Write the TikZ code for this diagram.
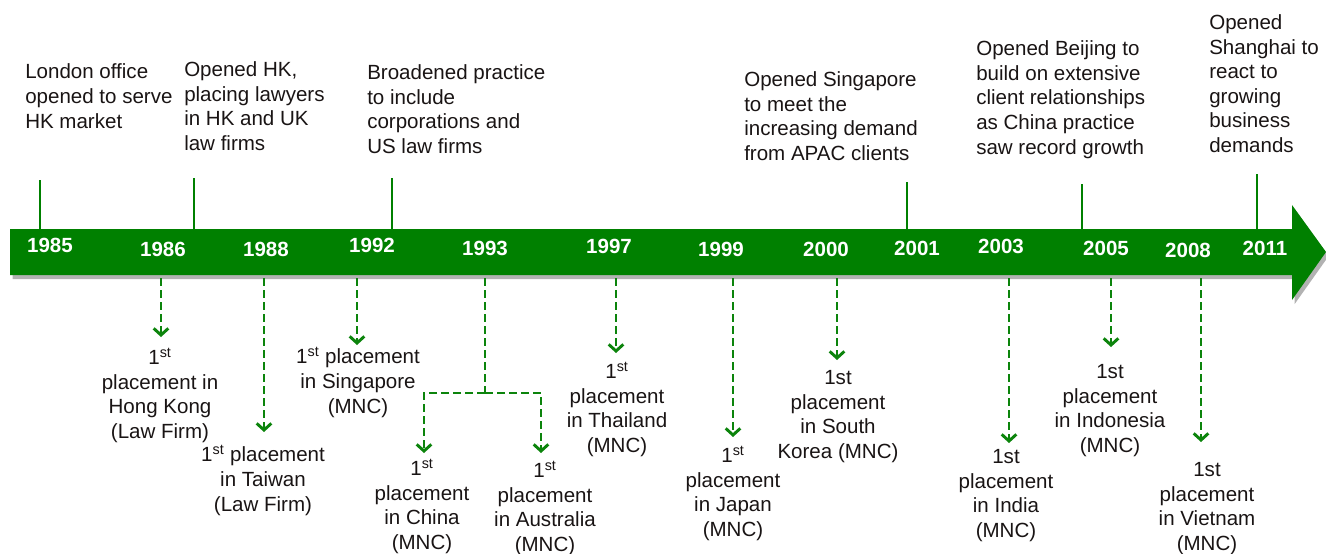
\documentclass[tikz,border=0pt]{standalone}
\usepackage{fontspec}
\setmainfont{Liberation Sans}
\usetikzlibrary{arrows.meta,shadows}
\definecolor{tlgreen}{RGB}{0,128,0}
\definecolor{dgreen}{RGB}{12,132,12}
\definecolor{txt}{RGB}{25,20,20}
\begin{document}
\begin{tikzpicture}[x=0.75pt,y=-0.75pt,
  font=\fontsize{15.4pt}{18.4pt}\selectfont,
  toptext/.style={anchor=base west, align=left, inner sep=0pt, text=txt},
  place/.style={anchor=base, align=center, inner sep=0pt, text=txt},
  year/.style={text=white, inner sep=0pt, font=\fontsize{15.4pt}{18pt}\selectfont\bfseries},
  tick/.style={draw=tlgreen, line width=1.5pt},
  dline/.style={draw=dgreen, line width=2.2pt, dash pattern=on 6pt off 3pt},
  drop/.style={dline, -{Straight Barb[length=5pt,width=11pt]}}]
\useasboundingbox (0,0) rectangle (1326,553);

% main arrow
\fill[tlgreen, drop shadow={shadow xshift=2pt, shadow yshift=-3pt, fill=black, opacity=0.3}]
  (10,229) -- (1292,229) -- (1292,205) -- (1326,252) -- (1292,300) -- (1292,275) -- (10,275) -- cycle;

% years
\node[year] (y85) at (50,245) {1985};
\node[year] (y86) at (163,249) {1986};
\node[year] (y88) at (266,249) {1988};
\node[year] (y92) at (372,245) {1992};
\node[year] (y93) at (485,248) {1993};
\node[year] (y97) at (609,246) {1997};
\node[year] (y99) at (721,249) {1999};
\node[year] (y00) at (826,249) {2000};
\node[year] (y01) at (917,248) {2001};
\node[year] (y03) at (1001,246) {2003};
\node[year] (y05) at (1106,248) {2005};
\node[year] (y08) at (1188,250) {2008};
\node[year] (y11) at (1265,248) {2011};

% top texts (anchor = baseline of last line)
\node[toptext] (tLon) at (25,128) {London office\\opened to serve\\HK market};
\node[toptext] (tHK) at (184,150.5) {Opened HK,\\placing lawyers\\in HK and UK\\law firms};
\node[toptext] (tBro) at (367,153.5) {Broadened practice\\to include\\corporations and\\US law firms};
\node[toptext] (tSin) at (744,160.5) {Opened Singapore\\to meet the\\increasing demand\\from APAC clients};
\node[toptext] (tBei) at (976,154) {Opened Beijing to\\build on extensive\\client relationships\\as China practice\\saw record growth};
\node[toptext] (tSha) at (1209,152.5) {Opened\\Shanghai to\\react to\\growing\\business\\demands};

% ticks
\coordinate (k1a) at (40,180);   \coordinate (k1b) at (40,229);
\coordinate (k2a) at (194,178);  \coordinate (k2b) at (194,229);
\coordinate (k3a) at (392,178);  \coordinate (k3b) at (392,229);
\coordinate (k4a) at (907,182);  \coordinate (k4b) at (907,229);
\coordinate (k5a) at (1082,184); \coordinate (k5b) at (1082,229);
\coordinate (k6a) at (1257,174); \coordinate (k6b) at (1257,229);
\foreach \k in {1,...,6} {\draw[tick] (k\k a) -- (k\k b);}

% bottom texts (anchor = baseline of last line)
\node[place] (pHK) at (160,438.5) {1\textsuperscript{st}\\placement in\\Hong Kong\\(Law Firm)};
\node[place] (pTW) at (263,511) {1\textsuperscript{st} placement\\in Taiwan\\(Law Firm)};
\node[place] (pSG) at (358,413) {1\textsuperscript{st} placement\\in Singapore\\(MNC)};
\node[place] (pCN) at (422,549.5) {1\textsuperscript{st}\\placement\\in China\\(MNC)};
\node[place] (pAU) at (545,551.5) {1\textsuperscript{st}\\placement\\in Australia\\(MNC)};
\node[place] (pTH) at (617,452.5) {1\textsuperscript{st}\\placement\\in Thailand\\(MNC)};
\node[place] (pJP) at (733,536.5) {1\textsuperscript{st}\\placement\\in Japan\\(MNC)};
\node[place] (pKR) at (838,458.5) {1st\\placement\\in South\\Korea (MNC)};
\node[place] (pIN) at (1006,537.5) {1st\\placement\\in India\\(MNC)};
\node[place] (pID) at (1110,452.5) {1st\\placement\\in Indonesia\\(MNC)};
\node[place] (pVN) at (1207,550.5) {1st\\placement\\in Vietnam\\(MNC)};

% dashed drops
\coordinate (s86) at (161,278);  \coordinate (e86) at (161,337);
\coordinate (s88) at (264,278);  \coordinate (e88) at (264,432);
\coordinate (s92) at (357,278);  \coordinate (e92) at (357,345);
\coordinate (s97) at (616,278);  \coordinate (e97) at (616,353);
\coordinate (s99) at (733,278);  \coordinate (e99) at (733,437);
\coordinate (s00) at (837,278);  \coordinate (e00) at (837,360);
\coordinate (s03) at (1009,278); \coordinate (e03) at (1009,443);
\coordinate (s05) at (1111,278); \coordinate (e05) at (1111,347);
\coordinate (s08) at (1201,278); \coordinate (e08) at (1201,442);
\foreach \k in {86,88,92,97,99,00,03,05,08} {\draw[drop] (s\k) -- (e\k);}

\coordinate (s93) at (485,278);  \coordinate (b93) at (485,393);
\coordinate (eCN) at (424,453);  \coordinate (eAU) at (541,453);
\draw[dline] (s93) -- (b93);
\draw[drop] (b93) -| (eCN);
\draw[drop] (b93) -| (eAU);
\end{tikzpicture}
\end{document}
